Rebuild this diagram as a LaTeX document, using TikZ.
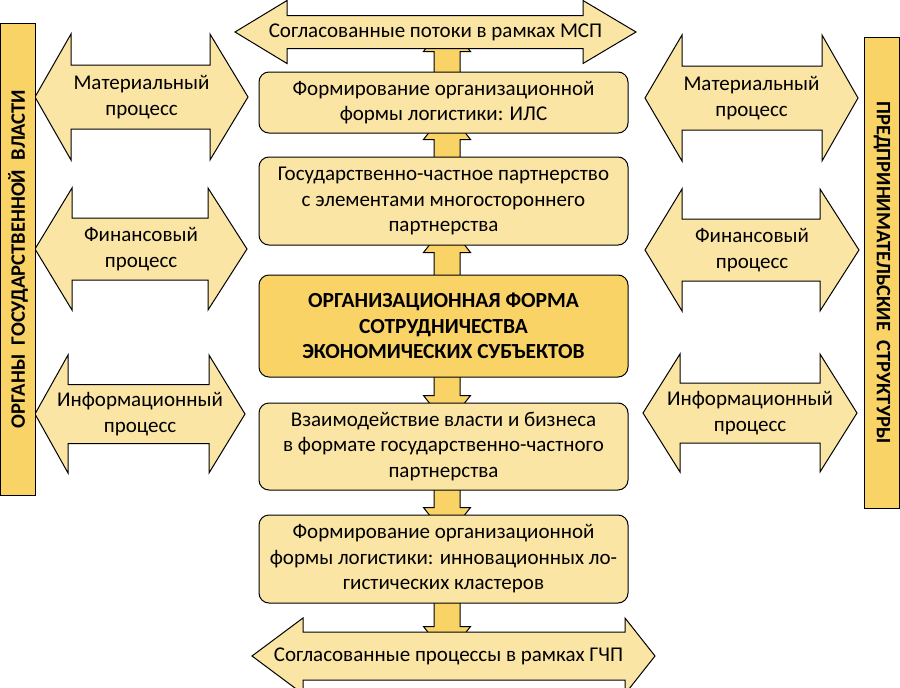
\documentclass[tikz,border=0pt]{standalone}
\usepackage{fontspec}
\setmainfont{Carlito}
\usetikzlibrary{calc}
\definecolor{lightY}{RGB}{251,229,164}
\definecolor{darkY}{RGB}{249,211,102}
\pgfdeclarelayer{background}
\pgfsetlayers{background,main}
\tikzset{
  blk/.style={draw=black, line width=1pt, fill=lightY, line join=miter},
  sarr/.style={draw=black, line width=1pt, fill=darkY, line join=miter},
  box/.style={draw=black, line width=1pt, fill=lightY, rounded corners=10pt,
    minimum width=369pt, align=center, inner sep=0pt,
    font=\fontsize{21}{25.5}\selectfont},
  mainbox/.style={box, fill=darkY, font=\fontsize{21.5}{25.5}\selectfont\bfseries},
  bar/.style={draw=black, line width=1pt, fill=darkY, inner sep=0pt,
    font=\fontsize{20.5}{22}\selectfont\bfseries},
  txt/.style={align=center, inner sep=0pt, font=\fontsize{21}{26}\selectfont}
}
% double block arrow: #1 left tip x, #2 left base x, #3 right base x, #4 right tip x,
% #5 centre y, #6 head half height, #7 body half height, #8 name, #9 text x
\newcommand\dblarr[9]{%
  \draw[blk] ({#1},{#5}) -- ({#2},{#5-#6}) -- ({#2},{#5-#7}) -- ({#3},{#5-#7})
    -- ({#3},{#5-#6}) -- ({#4},{#5}) -- ({#3},{#5+#6}) -- ({#3},{#5+#7})
    -- ({#2},{#5+#7}) -- ({#2},{#5+#6}) -- cycle;
  \coordinate (#8) at ({#9},{#5});}
% small vertical arrows: #1 start coordinate, #2 shaft length
\newcommand\uparr[2]{%
  \draw[sarr] ($(#1)+(-13,0)$) -- ++(0,{-#2}) -- ++(-10.5,0) -- ++(23.5,-30)
    -- ++(23.5,30) -- ++(-10.5,0) -- ++(0,{#2}) -- cycle;}
\newcommand\dnarr[2]{%
  \draw[sarr] ($(#1)+(-13,0)$) -- ++(0,{#2}) -- ++(-10.5,0) -- ++(23.5,30)
    -- ++(23.5,-30) -- ++(-10.5,0) -- ++(0,{-#2}) -- cycle;}
\begin{document}
\begin{tikzpicture}[x=1pt,y=-1pt]
\useasboundingbox (0,0) rectangle (900,688);

% central column boxes
\node[box, minimum height=61pt] (b1) at (443.5,102.5)
  {Формирование организационной\\формы логистики: ИЛС};
\node[box, minimum height=88pt] (b2) at (443.5,201)
  {Государственно-частное партнерство\\с элементами многостороннего\\партнерства};
\node[mainbox, minimum height=102pt] (bc) at (443.5,326)
  {ОРГАНИЗАЦИОННАЯ ФОРМА\\СОТРУДНИЧЕСТВА\\ЭКОНОМИЧЕСКИХ СУБЪЕКТОВ};
\node[box, minimum height=87pt] (b3) at (443.5,446.5)
  {Взаимодействие власти и бизнеса\\в формате государственно-частного\\партнерства};
\node[box, minimum height=88pt] (b4) at (443.5,559)
  {Формирование организационной\\формы логистики: инновационных ло-\\гистических кластеров};

% small connecting arrows (behind)
\begin{pgfonlayer}{background}
  \coordinate (s1) at ($(b1.north)+(3.5,3)$);
  \coordinate (s2) at ($(b2.north)+(3.5,3)$);
  \coordinate (s3) at ($(bc.north)+(3.5,3)$);
  \coordinate (s4) at ($(bc.south)+(3.5,-3)$);
  \coordinate (s5) at ($(b3.south)+(3.5,-3)$);
  \coordinate (s6) at ($(b4.south)+(3.5,-3)$);
  \uparr{s1}{23}
  \uparr{s2}{20}
  \uparr{s3}{25}
  \dnarr{s4}{21}
  \dnarr{s5}{20}
  \dnarr{s6}{26}
\end{pgfonlayer}

% top and bottom horizontal double arrows
\dblarr{235}{287}{583}{636}{32}{31.5}{16.5}{tac}{435.5}
\node[txt] (ta) at (tac) {Согласованные потоки в рамках МСП};
\dblarr{252}{303}{625}{655}{656}{38}{24}{bac}{448.5}
\node[txt] (ba) at (bac) {Согласованные процессы в рамках ГЧП};

% left double arrows
\dblarr{35}{71}{210}{248}{97}{63}{32}{lmc}{141.5}
\node[txt] (lm) at (lmc) {Материальный\\процесс};
\dblarr{35}{72}{208}{247}{249}{61}{31}{lfc}{141}
\node[txt] (lf) at (lfc) {Финансовый\\процесс};
\dblarr{35}{68}{209}{245}{414}{59}{29.5}{lic}{140}
\node[txt] (li) at (lic) {Информационный\\процесс};

% right double arrows
\dblarr{645}{682}{822}{858}{98}{63}{32}{rmc}{751.5}
\node[txt] (rm) at (rmc) {Материальный\\процесс};
\dblarr{645}{682}{820}{859}{250}{61}{31}{rfc}{752}
\node[txt] (rf) at (rfc) {Финансовый\\процесс};
\dblarr{643}{680}{820}{857}{413}{59}{30}{ric}{750}
\node[txt] (ri) at (ric) {Информационный\\процесс};

% side bars
\node[bar, rotate=90, minimum width=472pt, minimum height=35pt] (lb) at (18,259)
  {ОРГАНЫ\ \ ГОСУДАРСТВЕННОЙ\ \ ВЛАСТИ};
\node[bar, rotate=-90, minimum width=471pt, minimum height=35pt] (rb) at (882,272.5)
  {ПРЕДПРИНИМАТЕЛЬСКИЕ\ \ СТРУКТУРЫ};
\end{tikzpicture}
\end{document}
